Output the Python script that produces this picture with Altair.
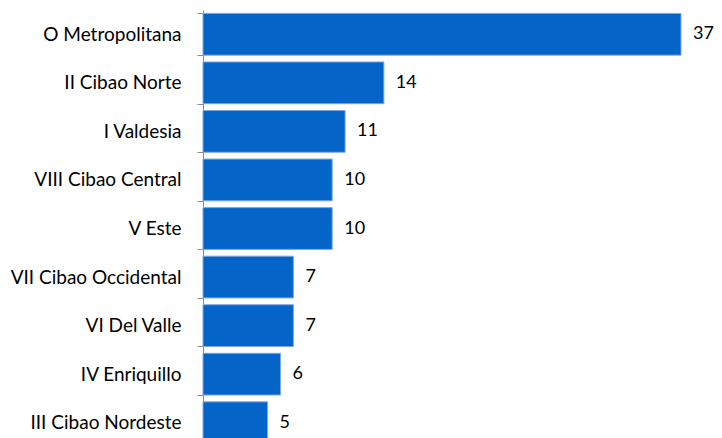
import altair as alt
import pandas as pd

regions = ["O Metropolitana", "II Cibao Norte", "I Valdesia", "VIII Cibao Central",
           "V Este", "VII Cibao Occidental", "VI Del Valle", "IV Enriquillo", "III Cibao Nordeste"]
values = [37, 14, 11, 10, 10, 7, 7, 6, 5]

df = pd.DataFrame({"region": regions, "value": values})

y = alt.Y("region:N", sort=regions, title=None,
          scale=alt.Scale(paddingInner=0.14, paddingOuter=0.07),
          axis=alt.Axis(tickBand="extent", tickSize=6, tickColor="#8c8c8c",
                        domainColor="#8c8c8c", labelFont="Lato", labelFontSize=19,
                        labelColor="#000000", labelPadding=16, grid=False))
x = alt.X("value:Q", title=None, scale=alt.Scale(domain=[0, 37], nice=False),
          axis=None)

bars = alt.Chart(df).mark_bar(color="#0564C8", stroke="#7FA8E0", strokeWidth=1).encode(x=x, y=y)
labels = alt.Chart(df).mark_text(align="left", dx=12, font="Lato", fontSize=18,
                                 color="#000000").encode(x=x, y=y, text="value:Q")

chart = (bars + labels).properties(
    width=478, height=437,
    autosize=alt.AutoSizeParams(type="none"),
    padding={"left": 195, "top": 2, "right": 33, "bottom": 0},
).configure_view(stroke=None)

chart.save("out.html", embed_options={"renderer": "svg", "actions": False})
